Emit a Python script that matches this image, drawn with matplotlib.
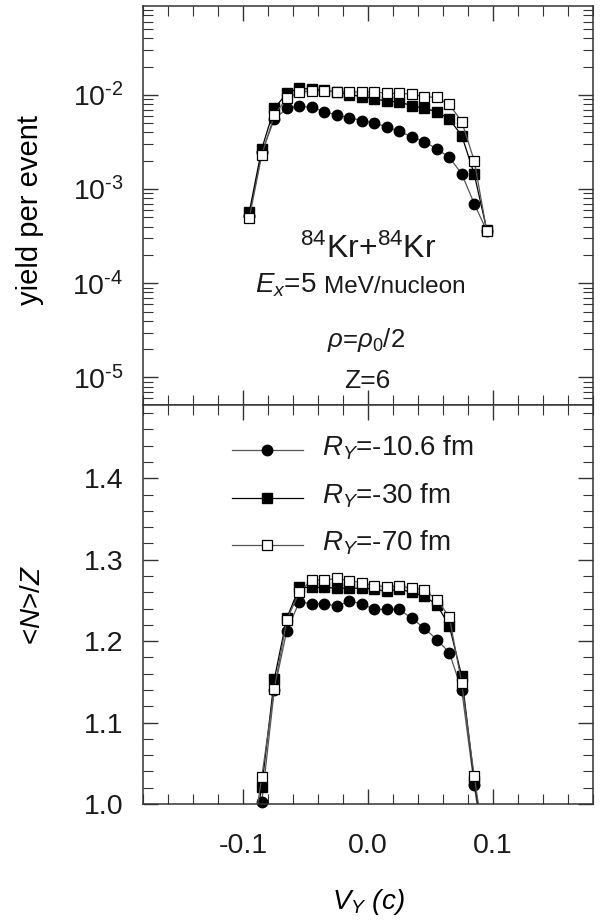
import matplotlib
matplotlib.use('Agg')
import matplotlib.pyplot as plt
import numpy as np
from matplotlib.ticker import MultipleLocator, LogLocator, NullFormatter, FuncFormatter, FormatStrFormatter
from matplotlib.lines import Line2D

plt.rcParams['font.family'] = ['Liberation Sans', 'DejaVu Sans']
plt.rcParams['mathtext.fontset'] = 'custom'
plt.rcParams['mathtext.rm'] = 'Liberation Sans'
plt.rcParams['mathtext.it'] = 'Liberation Sans:italic'
plt.rcParams['mathtext.bf'] = 'Liberation Sans:bold'
plt.rcParams['axes.unicode_minus'] = False

# ---------------- data ----------------
vy = [-0.095, -0.085, -0.075, -0.065, -0.055, -0.045, -0.035, -0.025, -0.015, -0.005,
      0.005, 0.015, 0.025, 0.035, 0.045, 0.055, 0.065, 0.075, 0.085, 0.095]

yield_r106 = [5.2e-4, 2.45e-3, 5.5e-3, 7.2e-3, 7.6e-3, 7.4e-3, 6.65e-3, 6.1e-3, 5.75e-3, 5.35e-3,
              5.0e-3, 4.6e-3, 4.1e-3, 3.6e-3, 3.2e-3, 2.67e-3, 2.18e-3, 1.45e-3, 7.0e-4, 3.6e-4]
yield_r30 = [5.7e-4, 2.67e-3, 7.2e-3, 1.04e-2, 1.18e-2, 1.15e-2, 1.12e-2, 1.07e-2, 1.01e-2, 9.6e-3,
             9.1e-3, 8.6e-3, 8.4e-3, 7.7e-3, 7.2e-3, 6.65e-3, 5.55e-3, 3.7e-3, 1.44e-3, 3.7e-4]
yield_r70 = [4.9e-4, 2.3e-3, 6.1e-3, 9.2e-3, 1.08e-2, 1.1e-2, 1.1e-2, 1.08e-2, 1.07e-2, 1.08e-2,
             1.08e-2, 1.04e-2, 1.04e-2, 1.02e-2, 9.6e-3, 9.4e-3, 7.95e-3, 5.2e-3, 2.0e-3, 3.6e-4]

nz_r106 = [0.92, 1.002, 1.140, 1.213, 1.248, 1.246, 1.246, 1.243, 1.249, 1.246,
           1.239, 1.239, 1.239, 1.228, 1.216, 1.202, 1.186, 1.140, 1.023, 0.92]
nz_r30 = [0.93, 1.021, 1.153, 1.228, 1.266, 1.266, 1.266, 1.265, 1.265, 1.265,
          1.264, 1.261, 1.264, 1.260, 1.255, 1.245, 1.219, 1.157, 1.028, 0.93]
nz_r70 = [0.93, 1.033, 1.141, 1.226, 1.260, 1.275, 1.275, 1.277, 1.274, 1.272,
          1.268, 1.267, 1.268, 1.265, 1.263, 1.251, 1.230, 1.148, 1.034, 0.93]

labels = [r'$R_Y$=-10.6 fm', r'$R_Y$=-30 fm', r'$R_Y$=-70 fm']

# ---------------- styles ----------------
styles = [
    dict(marker='o', ms=7.5, mfc='black', mec='black', color='#555555'),
    dict(marker='s', ms=6.5, mfc='black', mec='black', color='#000000'),
    dict(marker='s', ms=7.0, mfc='white', mec='black', mew=0.9, color='#555555'),
]
LW = 0.9
AXC = '#333333'
TXT = '#1a1a1a'

fig = plt.figure(figsize=(6.03, 9.22), dpi=100)
W, H = 603.0, 922.0
left = 143 / W
width = 450 / W
ax1 = fig.add_axes([left, (H - 405) / H, width, 399 / H])
ax2 = fig.add_axes([left, (H - 804) / H, width, 399 / H])

# ---------------- top panel ----------------
for yv, st in zip([yield_r106, yield_r30, yield_r70], styles):
    ax1.plot(vy, yv, lw=LW, **st)
ax1.set_yscale('log')
ax1.set_ylim(5.1e-6, 0.088)
ax1.yaxis.set_major_locator(LogLocator(base=10, numticks=20))
ax1.yaxis.set_minor_locator(LogLocator(base=10, subs=np.arange(2, 10), numticks=20))
ax1.yaxis.set_major_formatter(FuncFormatter(lambda v, p: r'$10^{\text{-}%d}$' % abs(round(np.log10(v)))))
ax1.yaxis.set_minor_formatter(NullFormatter())
ax1.set_ylabel('yield per event', fontsize=21)
ax1.yaxis.label.set_va('center')
ax1.yaxis.set_label_coords(-0.252, 0.489)

# ---------------- bottom panel ----------------
for yv, st in zip([nz_r106, nz_r30, nz_r70], styles):
    ax2.plot(vy, yv, lw=LW, color=st['color'], marker='none')
    yarr = np.array(yv)
    m = yarr >= 1.0
    ax2.plot(np.array(vy)[m], yarr[m], lw=0, clip_on=False,
             **{k: v for k, v in st.items() if k != 'color'})
ax2.set_ylim(1.0, 1.49)
ax2.yaxis.set_major_locator(MultipleLocator(0.1))
ax2.yaxis.set_minor_locator(MultipleLocator(0.02))
ax2.yaxis.set_major_formatter(FormatStrFormatter('%.1f'))
ax2.set_ylabel(r'<$N$>/$Z$', fontsize=20)
ax2.yaxis.label.set_va('center')
ax2.yaxis.set_label_coords(-0.244, 0.499)
ax2.set_xlabel(r'$V_Y$ (c)', fontsize=20, fontstyle='italic')
ax2.xaxis.label.set_va('baseline')
ax2.xaxis.set_label_coords(0.5, -0.262)

for ax in (ax1, ax2):
    ax.set_xlim(-0.18, 0.18)
    ax.xaxis.set_major_locator(MultipleLocator(0.1))
    ax.xaxis.set_minor_locator(MultipleLocator(0.02))
    ax.xaxis.set_major_formatter(FormatStrFormatter('%.1f'))
    ax.tick_params(which='both', direction='in', top=True, right=True,
                   color=AXC, labelcolor=TXT, labelsize=20.5)
    ax.tick_params(which='major', length=11, width=1.0)
    ax.tick_params(which='minor', length=7, width=0.8)
    ax.tick_params(axis='y', pad=14)
    ax.tick_params(axis='x', pad=21)
    for sp in ax.spines.values():
        sp.set_color(AXC)
        sp.set_linewidth(1.1)
ax1.tick_params(labelbottom=False)

# ---------------- annotations (top panel) ----------------
ax1.text(0.5, 0.368, r'$^{84}$Kr+$^{84}$Kr', transform=ax1.transAxes,
         ha='center', va='baseline', fontsize=23, color=TXT)
ax1.text(0.385, 0.281, r'$E_x$=5', transform=ax1.transAxes,
         ha='right', va='baseline', fontsize=20, color=TXT)
ax1.text(0.402, 0.281, 'MeV/nucleon', transform=ax1.transAxes,
         ha='left', va='baseline', fontsize=17.5, color=TXT)
ax1.text(0.495, 0.146, r'$\rho$=$\rho_0$/2', transform=ax1.transAxes,
         ha='center', va='baseline', fontsize=18.5, color=TXT)
ax1.text(0.498, 0.042, 'Z=6', transform=ax1.transAxes,
         ha='center', va='baseline', fontsize=19, color=TXT)

# ---------------- legend (bottom panel) ----------------
rows = [0.887, 0.767, 0.649]
text_rows = [0.873, 0.752, 0.636]
for st, lab, ry, ty in zip(styles, labels, rows, text_rows):
    ax2.add_line(Line2D([0.198, 0.356], [ry, ry], transform=ax2.transAxes,
                        lw=LW, color=st['color'], clip_on=False))
    ax2.add_line(Line2D([0.276], [ry], transform=ax2.transAxes, lw=0, clip_on=False,
                        **{k: v for k, v in st.items() if k != 'color'}))
    ax2.text(0.398, ty, lab, transform=ax2.transAxes, ha='left', va='baseline',
             fontsize=20, color=TXT)

fig.savefig('out.png', dpi=100)
